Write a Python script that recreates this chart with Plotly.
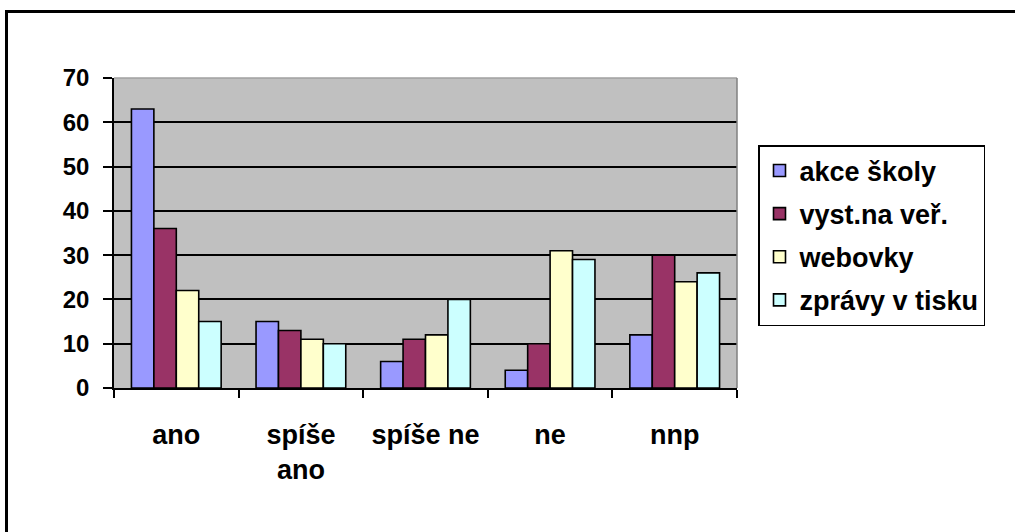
import plotly.graph_objects as go

# Survey answers (categories) and counts per information channel
categories = ["ano", "spíše ano", "spíše ne", "ne", "nnp"]
category_labels = ["ano", "spíše<br>ano", "spíše ne", "ne", "nnp"]

akce_skoly = [63, 15, 6, 4, 12]
vyst_na_ver = [36, 13, 11, 10, 30]
webovky = [22, 11, 12, 31, 24]
zpravy_v_tisku = [15, 10, 20, 29, 26]

series_names = ["akce školy", "vyst.na veř.", "webovky", "zprávy v tisku"]
series_values = [akce_skoly, vyst_na_ver, webovky, zpravy_v_tisku]
series_colors = ["#9999FF", "#993366", "#FFFFCC", "#CCFFFF"]

y_ticks = [0, 10, 20, 30, 40, 50, 60, 70]

W, H = 1015, 532
FONT = "Liberation Sans, Arial, sans-serif"

fig = go.Figure()
for name, vals, col in zip(series_names, series_values, series_colors):
    fig.add_trace(go.Bar(
        x=categories, y=vals, name=name, legendgroup=name,
        marker=dict(color=col, line=dict(color="black", width=1.6)),
    ))

fig.update_layout(
    width=W, height=H,
    margin=dict(l=0, r=0, t=0, b=0, pad=0, autoexpand=False),
    paper_bgcolor="white",
    plot_bgcolor="#C0C0C0",
    barmode="group",
    bargap=0.28,
    bargroupgap=0,
    font=dict(family=FONT, color="black"),
    legend=dict(
        x=758 / W, y=1 - 145 / H, xanchor="left", yanchor="top",
        xref="container", yref="container",
        bgcolor="white", bordercolor="black", borderwidth=1.5,
        font=dict(family=FONT, size=27, weight="bold", color="black"),
        tracegroupgap=5,
        traceorder="grouped",
    ),
    xaxis=dict(
        domain=[114 / W, 737 / W], automargin=False,
        tickmode="array", tickvals=categories, ticktext=category_labels,
        tickson="boundaries", ticks="outside", ticklen=8, tickwidth=1.5,
        tickcolor="black",
        showline=True, linecolor="black", linewidth=1.5,
        showgrid=False,
        tickfont=dict(family=FONT, size=27, weight="bold", color="black"),
        ticklabelstandoff=22,
    ),
    yaxis=dict(
        domain=[1 - 388 / H, 1 - 78 / H], automargin=False,
        range=[0, 70],
        tickmode="array", tickvals=y_ticks,
        ticks="outside", ticklen=9, tickwidth=1.5, tickcolor="black",
        showline=True, linecolor="black", linewidth=1.5,
        showgrid=True, gridcolor="black", gridwidth=2,
        zeroline=False,
        tickfont=dict(family=FONT, size=24, weight="bold", color="black"),
        ticklabelstandoff=9,
    ),
    shapes=[
        # grey frame of the plotting area (top and right edges)
        dict(type="line", xref="x domain", yref="y domain",
             x0=0, x1=1, y0=1, y1=1, line=dict(color="#A0A0A0", width=1.5)),
        dict(type="line", xref="x domain", yref="y domain",
             x0=1, x1=1, y0=0, y1=1, line=dict(color="#808080", width=1.5)),
        # outer chart border
        dict(type="rect", xref="paper", yref="paper",
             x0=6.5 / W, x1=1.02, y0=-0.03, y1=1 - 11.5 / H,
             line=dict(color="black", width=3)),
    ],
)

fig.write_html(
    "out.html",
    post_script="document.body.style.margin='0';document.body.style.overflow='hidden';",
)
